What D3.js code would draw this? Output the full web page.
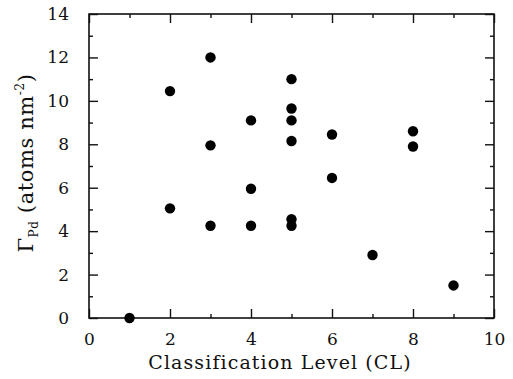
<!DOCTYPE html>
<html>
<head>
<meta charset="utf-8">
<script src="https://cdn.jsdelivr.net/npm/d3@7"></script>
<style>
  body { margin: 0; background: #fff; }
  svg { display: block; }
  text { font-family: "DejaVu Serif", "Liberation Serif", serif; fill: #111; }
</style>
</head>
<body>
<svg></svg>
<script>
// classification level vs Pd surface density
var levels = [1, 2, 2, 3, 3, 3, 4, 4, 4, 5, 5, 5, 5, 5, 5, 6, 6, 7, 8, 8, 9];
var gammaPd = [0, 10.45, 5.05, 12, 7.95, 4.25, 9.1, 5.95, 4.25, 11, 9.65, 9.1, 8.15, 4.55, 4.25, 8.45, 6.45, 2.9, 8.6, 7.9, 1.5];
var xTicks = [0, 2, 4, 6, 8, 10];
var yTicks = [0, 2, 4, 6, 8, 10, 12, 14];
var xMinor = [1, 3, 5, 7, 9];
var yMinor = [1, 3, 5, 7, 9, 11, 13];

var width = 513, height = 379;
var mLeft = 89, mRight = 494, mTop = 14, mBottom = 318;

var svg = d3.select('svg').attr('width', width).attr('height', height);

var x = d3.scaleLinear().domain([0, 10]).range([mLeft, mRight]);
var y = d3.scaleLinear().domain([0, 14]).range([mBottom, mTop]);

function axisStyle(g) {
  g.select('.domain').remove();
  g.selectAll('line').attr('stroke', '#111').attr('stroke-width', 1.4);
  g.selectAll('text').attr('font-size', 17).style('font-family', '"DejaVu Serif", serif').attr('fill', '#111');
}

// major ticks (inward) on every side
svg.append('g').attr('transform', 'translate(0,' + mBottom + ')')
  .call(d3.axisBottom(x).tickValues(xTicks).tickSize(-9).tickPadding(15).tickFormat(d3.format('d')))
  .call(axisStyle);
svg.append('g').attr('transform', 'translate(0,' + mTop + ')')
  .call(d3.axisTop(x).tickValues(xTicks).tickSize(-9).tickFormat(''))
  .call(axisStyle);
svg.append('g').attr('transform', 'translate(' + mLeft + ',0)')
  .call(d3.axisLeft(y).tickValues(yTicks).tickSize(-9).tickPadding(20).tickFormat(d3.format('d')))
  .call(axisStyle);
svg.append('g').attr('transform', 'translate(' + mRight + ',0)')
  .call(d3.axisRight(y).tickValues(yTicks).tickSize(-9).tickFormat(''))
  .call(axisStyle);

// minor ticks
svg.append('g').attr('transform', 'translate(0,' + mBottom + ')')
  .call(d3.axisBottom(x).tickValues(xMinor).tickSize(-4).tickFormat('')).call(axisStyle);
svg.append('g').attr('transform', 'translate(0,' + mTop + ')')
  .call(d3.axisTop(x).tickValues(xMinor).tickSize(-4).tickFormat('')).call(axisStyle);
svg.append('g').attr('transform', 'translate(' + mLeft + ',0)')
  .call(d3.axisLeft(y).tickValues(yMinor).tickSize(-4).tickFormat('')).call(axisStyle);
svg.append('g').attr('transform', 'translate(' + mRight + ',0)')
  .call(d3.axisRight(y).tickValues(yMinor).tickSize(-4).tickFormat('')).call(axisStyle);

// frame
svg.append('rect')
  .attr('x', mLeft).attr('y', mTop)
  .attr('width', mRight - mLeft).attr('height', mBottom - mTop)
  .attr('fill', 'none').attr('stroke', '#111').attr('stroke-width', 1.6);

// points
svg.append('g').selectAll('circle')
  .data(levels)
  .enter().append('circle')
  .attr('cx', function (d) { return x(d); })
  .attr('cy', function (d, i) { return y(gammaPd[i]); })
  .attr('r', 5.2)
  .attr('fill', '#000');

// axis titles
svg.append('text')
  .attr('x', 280).attr('y', 369)
  .attr('text-anchor', 'middle')
  .attr('font-size', 19)
  .attr('letter-spacing', 1.1)
  .text('Classification Level (CL)');

var yt = svg.append('text')
  .attr('transform', 'translate(33,163) rotate(-90)')
  .attr('text-anchor', 'middle')
  .attr('font-size', 21)
  .attr('letter-spacing', 0.6);
yt.append('tspan').text('\u0393');
yt.append('tspan').attr('font-size', 12).attr('dy', 5).text('Pd');
yt.append('tspan').attr('dy', -5).text(' (atoms nm');
yt.append('tspan').attr('font-size', 12).attr('dy', -9).text('-2');
yt.append('tspan').attr('dy', 9).text(')');
</script>
</body>
</html>
